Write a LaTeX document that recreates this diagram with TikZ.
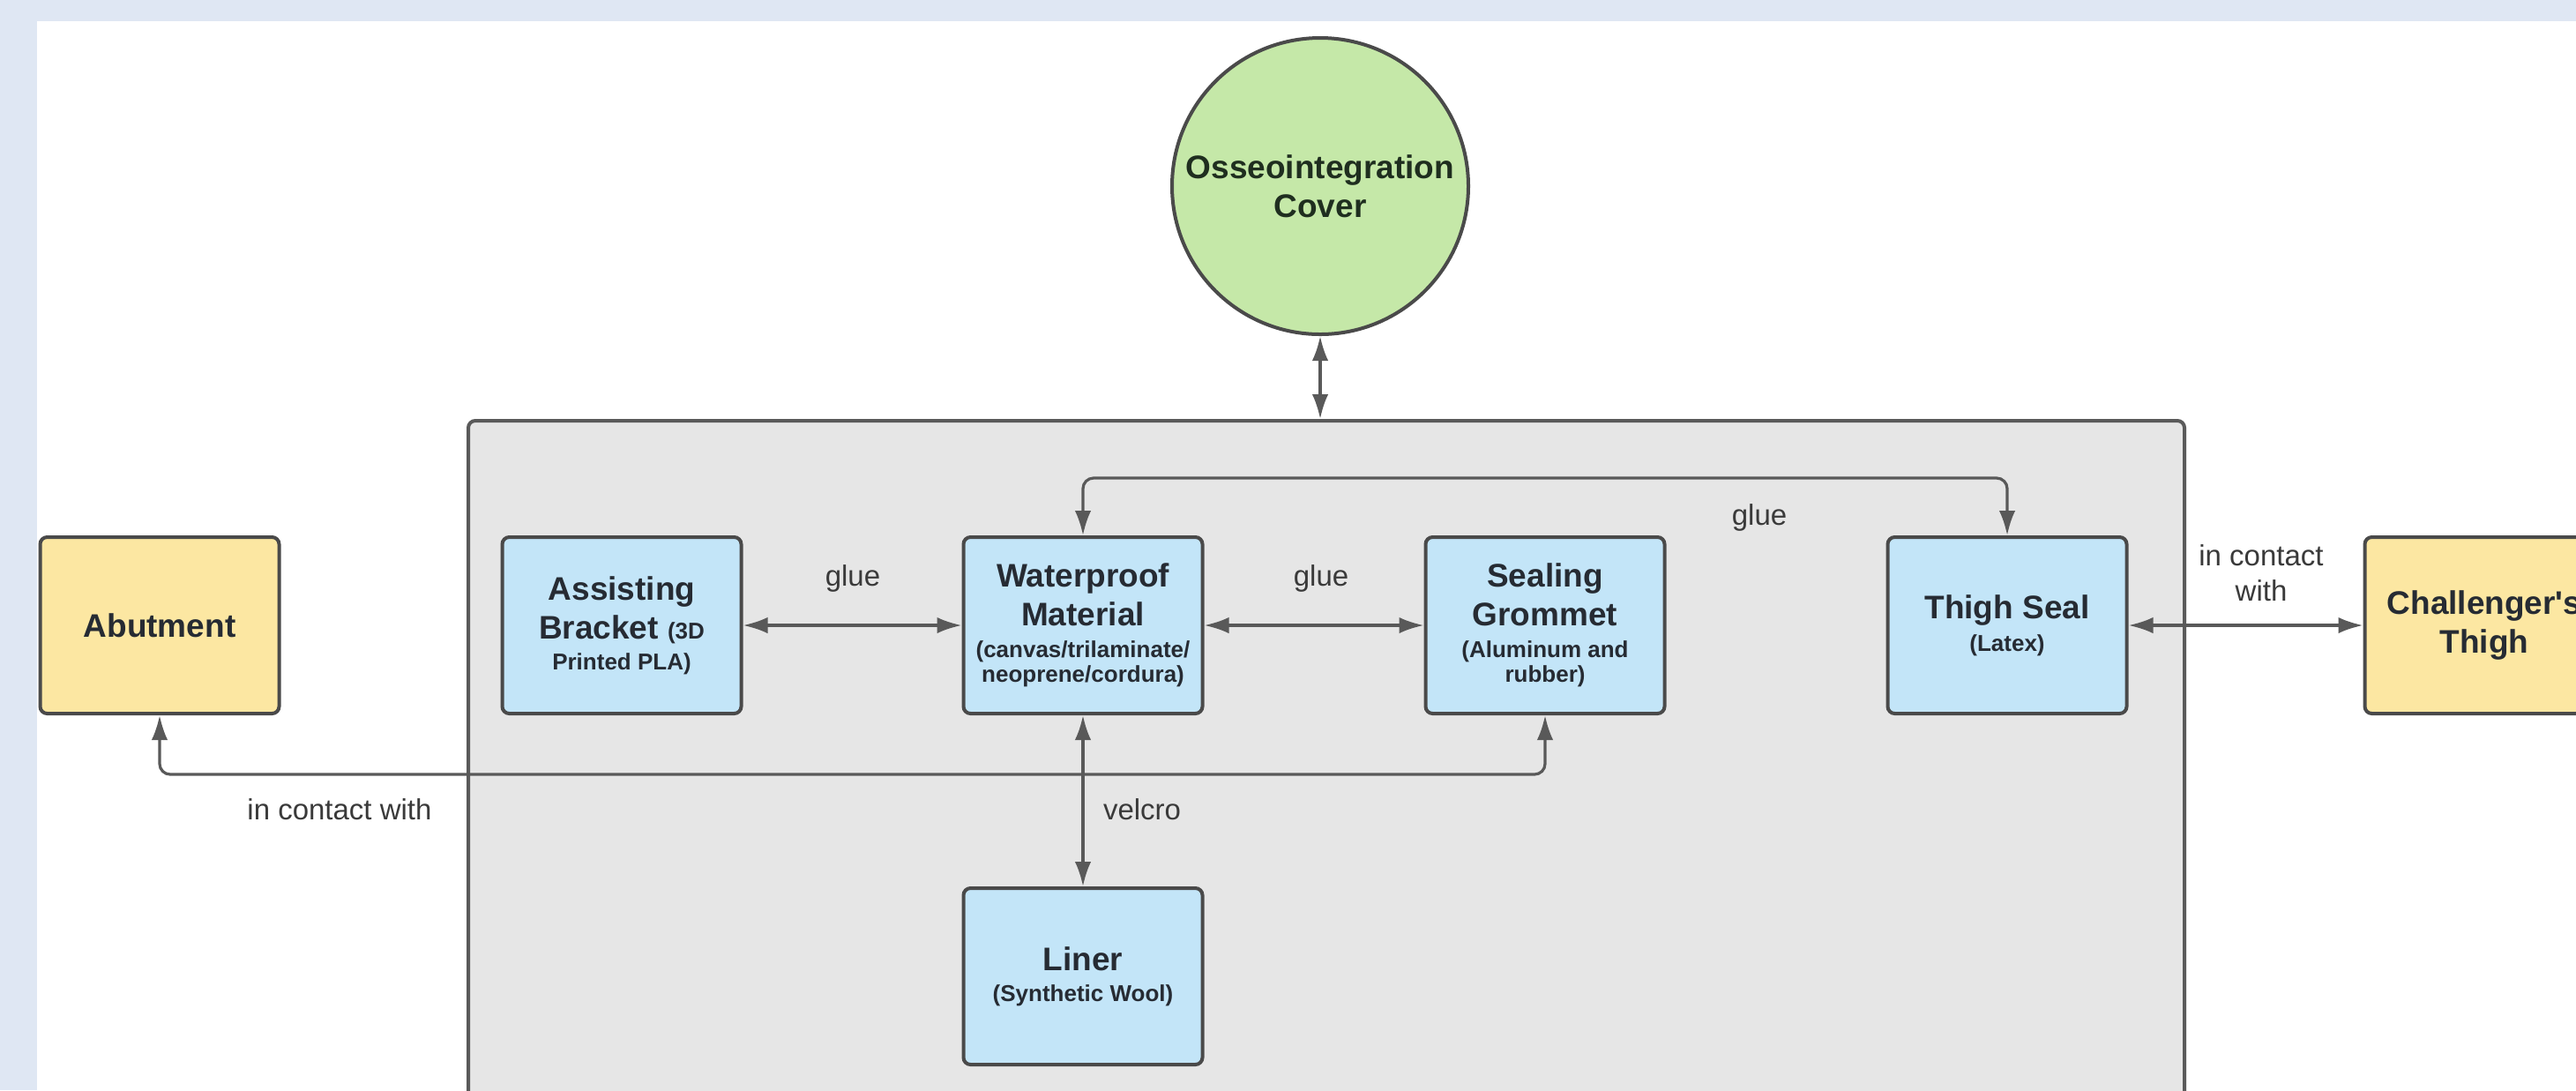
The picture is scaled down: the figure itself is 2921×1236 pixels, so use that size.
\documentclass[tikz,border=0pt]{standalone}
\usepackage{fontspec}
\setmainfont{Liberation Sans}
\usetikzlibrary{arrows.meta}
\definecolor{bandblue}{HTML}{DFE7F3}
\definecolor{contfill}{HTML}{E6E6E6}
\definecolor{contline}{HTML}{5A5A5A}
\definecolor{boxline}{HTML}{4A4A4A}
\definecolor{bluefill}{HTML}{C3E5F8}
\definecolor{yellowfill}{HTML}{FCE7A2}
\definecolor{greenfill}{HTML}{C5E8A8}
\definecolor{titletext}{HTML}{262B33}
\definecolor{greentext}{HTML}{1F2E1F}
\definecolor{connline}{HTML}{595959}
\definecolor{labeltext}{HTML}{3A3A3A}
\newcommand{\ttlfont}{\fontsize{9.25}{11}\selectfont\bfseries}
\newcommand{\subfnt}{\fontsize{6.5}{7}\selectfont\bfseries}
\begin{document}
\begin{tikzpicture}[x=0.25pt,y=-0.25pt,
  part/.style={draw=boxline, line width=1pt, rounded corners=2pt,
    minimum width=67.75pt, minimum height=50pt, inner sep=0pt,
    align=center, text=titletext, font=\ttlfont},
  bluebox/.style={part, fill=bluefill},
  yellowbox/.style={part, fill=yellowfill},
  conn/.style={draw=connline, line width=0.8pt,
    {Latex[length=7pt,width=4.6pt]}-{Latex[length=7pt,width=4.6pt]}},
  lbl/.style={text=labeltext, font=\fontsize{8.25}{10}\selectfont,
    inner sep=0pt, align=center}
]
\useasboundingbox (0,0) rectangle (2921,1236);
\clip (0,0) rectangle (2921,1236);
% background
\fill[bandblue] (0,0) rectangle (2921,1236);
\fill[white] (42,24) rectangle (2930,1250);
% container
\node[draw=contline, fill=contfill, line width=1pt, rounded corners=2pt,
  minimum width=486.5pt, minimum height=196pt, inner sep=0pt] (cont) at (1504,869) {};
% nodes
\node[circle, draw=boxline, line width=1pt, fill=greenfill, minimum size=84pt,
  inner sep=0pt, align=center, text=greentext, font=\ttlfont] (osse) at (1497,211)
  {Osseointegration\\Cover};
\node[yellowbox] (abut) at (181,709) {Abutment};
\node[bluebox] (brack) at (705,709)
  {Assisting\\Bracket {\subfnt(3D}\\[-2.3pt]{\subfnt Printed PLA)}};
\node[bluebox] (water) at (1228,709)
  {Waterproof\\Material\\[-2.2pt]{\subfnt(canvas/trilaminate/}\\[-3.9pt]{\subfnt neoprene/cordura)}};
\node[bluebox] (grom) at (1752,709)
  {Sealing\\Grommet\\[-2pt]{\subfnt(Aluminum and}\\[-3.9pt]{\subfnt rubber)}};
\node[bluebox] (seal) at (2276,709)
  {Thigh Seal\\[-1.8pt]{\subfnt(Latex)}};
\node[yellowbox] (thigh) at (2817,709) {Challenger\textquotesingle s\\Thigh};
\node[bluebox] (liner) at (1228,1107)
  {Liner\\[-2.3pt]{\subfnt(Synthetic Wool)}};
% helper coordinates
\coordinate (gluey) at (0,542);
\coordinate (conty) at (0,878);
% connectors
\draw[conn] (osse.south) -- (osse.south |- cont.north);
\draw[conn] (brack.east) -- (water.west);
\draw[conn] (water.east) -- (grom.west);
\draw[conn, rounded corners=3pt] (water.north) -- (water.north |- gluey) -- (seal.north |- gluey) -- (seal.north);
\draw[conn] (water.south) -- (liner.north);
\draw[conn, rounded corners=3pt] (abut.south) -- (abut.south |- conty) -- (grom.south |- conty) -- (grom.south);
\draw[conn] (seal.east) -- (thigh.west);
% labels
\node[lbl] (l1) at (967,656) {glue};
\node[lbl] (l2) at (1498,656) {glue};
\node[lbl] (l3) at (1995,587) {glue};
\node[lbl] (l4) at (1295,918) {velcro};
\node[lbl] (l5) at (385,918) {in contact with};
\node[lbl] (l6) at (2564,650) {in contact\\with};
\end{tikzpicture}
\end{document}
